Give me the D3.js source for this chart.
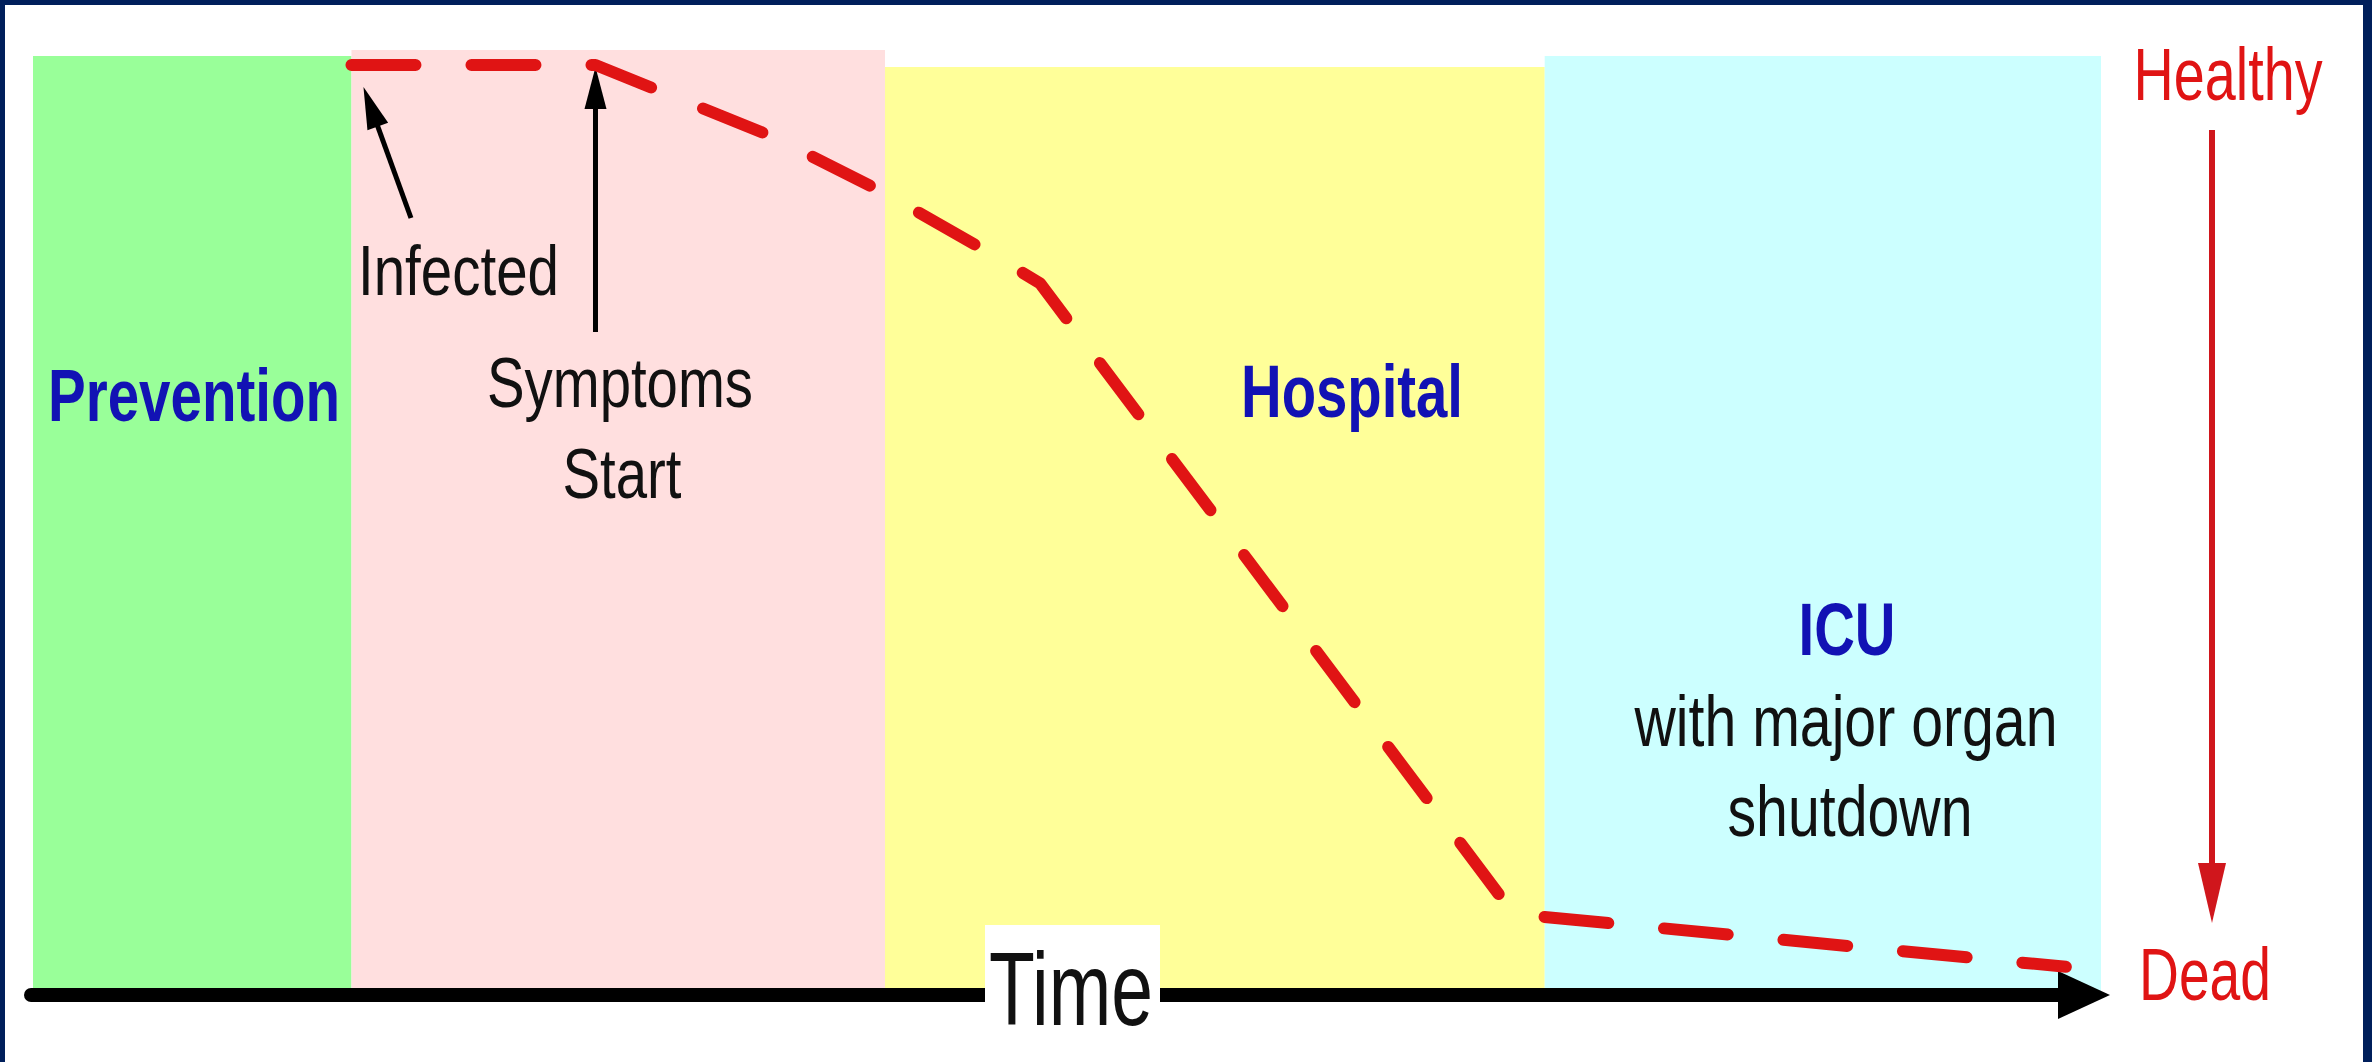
<!DOCTYPE html>
<html>
<head>
<meta charset="utf-8">
<script src="https://cdn.jsdelivr.net/npm/d3@7/dist/d3.min.js"></script>
<style>
  html, body { margin: 0; padding: 0; background: #001f5b; }
  svg { display: block; }
</style>
</head>
<body>
<svg id="chart" width="2372" height="1062"></svg>
<script>
// ---------- data ----------
const phaseNames  = ["Prevention", "Infection", "Hospital", "ICU"];
const phaseStart  = [0, 15.4, 41.2, 73.1];     // time units
const phaseEnd    = [15.4, 41.2, 73.1, 100];
const curveTime   = [15.4, 27.2, 35.8, 41.2, 46.6, 48.7, 71.6, 98.3];
const curveHealth = [100, 100, 92.1, 85.9, 78.9, 76.0, 6.7, 0.9];
const infectedTime = 15.4;
const symptomsTime = 27.2;
const healthLabels = ["Healthy", "Dead"];
const axisLabel = "Time";

// ---------- styles / layout ----------
const W = 2372, H = 1062;
const phaseColor = ["#99ff99", "#ffdfdf", "#ffff99", "#ccffff"];
const phaseTop   = [56, 50, 67, 56];
const panelBottom = 994;
const axisY = 995;
const RED = "#e01414";
const BLUE = "#1212b4";
const FONT = "'Liberation Sans', Arial, sans-serif";

const svg = d3.select("#chart");
const x = d3.scaleLinear().domain([0, 100]).range([33, 2101]);
const y = d3.scaleLinear().domain([0, 100]).range([975, 65]);

// frame
svg.append("rect").attr("x", 0).attr("y", 0).attr("width", W).attr("height", H).attr("fill", "#001f5b");
svg.append("rect").attr("x", 5).attr("y", 5).attr("width", 2358).attr("height", H - 5).attr("fill", "#ffffff");

// phase panels
svg.append("g").selectAll("rect")
  .data(phaseNames)
  .join("rect")
  .attr("x", (d, i) => x(phaseStart[i]))
  .attr("width", (d, i) => x(phaseEnd[i]) - x(phaseStart[i]))
  .attr("y", (d, i) => phaseTop[i])
  .attr("height", (d, i) => panelBottom - phaseTop[i])
  .attr("fill", (d, i) => phaseColor[i]);

// time axis with arrow
const axisEndX = 2110;
svg.append("line")
  .attr("x1", 31).attr("x2", axisEndX - 48)
  .attr("y1", axisY).attr("y2", axisY)
  .attr("stroke", "#000").attr("stroke-width", 14).attr("stroke-linecap", "round");
svg.append("path")
  .attr("d", `M${axisEndX},${axisY} L${axisEndX - 52},${axisY - 24} L${axisEndX - 52},${axisY + 24} Z`)
  .attr("fill", "#000");

// Time label with white box
svg.append("rect").attr("x", 985).attr("y", 925).attr("width", 175).attr("height", 108).attr("fill", "#fff");

function label(txt, px, py, size, opts = {}) {
  const t = svg.append("text")
    .attr("x", px).attr("y", py)
    .attr("font-family", FONT)
    .attr("font-size", size)
    .attr("font-weight", opts.bold ? "bold" : "normal")
    .attr("fill", opts.color || "#111")
    .attr("text-anchor", opts.anchor || "start")
    .text(txt);
  if (opts.len) t.attr("textLength", opts.len).attr("lengthAdjust", "spacingAndGlyphs");
  return t;
}

label(axisLabel, 989, 1025, 104, { len: 164 });

// phase labels
label("Prevention", 48, 421, 74, { bold: true, color: BLUE, len: 292 });
label("Hospital", 1241, 417, 74, { bold: true, color: BLUE, len: 222 });
label("ICU", 1847, 655, 74, { bold: true, color: BLUE, len: 97, anchor: "middle" });
label("with major organ", 1846, 746, 72, { len: 423, anchor: "middle" });
label("shutdown", 1850, 836, 72, { len: 245, anchor: "middle" });

// event labels
label("Infected", 358, 295, 70, { len: 201 });
label("Symptoms", 620, 407, 70, { len: 266, anchor: "middle" });
label("Start", 622, 498, 70, { len: 119, anchor: "middle" });

// health scale labels
label(healthLabels[0], 2228, 100, 74, { color: RED, len: 189, anchor: "middle" });
label(healthLabels[1], 2205, 1000, 74, { color: RED, len: 132, anchor: "middle" });

// arrow helper
function arrow(x1, y1, x2, y2, color, width, headLen, headHalf) {
  const dx = x2 - x1, dy = y2 - y1, L = Math.hypot(dx, dy);
  const ux = dx / L, uy = dy / L;
  const bx = x2 - ux * headLen, by = y2 - uy * headLen;
  svg.append("line")
    .attr("x1", x1).attr("y1", y1).attr("x2", bx + ux * 2).attr("y2", by + uy * 2)
    .attr("stroke", color).attr("stroke-width", width);
  svg.append("path")
    .attr("d", `M${x2},${y2} L${bx - uy * headHalf},${by + ux * headHalf} L${bx + uy * headHalf},${by - ux * headHalf} Z`)
    .attr("fill", color);
}

// Infected arrow (points to start of curve)
arrow(411, 218, x(infectedTime) + 12, y(100) + 22, "#000", 5, 42, 11);
// Symptoms arrow
arrow(x(symptomsTime), 332, x(symptomsTime), y(100) + 2, "#000", 5, 42, 11);
// Healthy -> Dead arrow
arrow(2212, 130, 2212, 923, "#d0161c", 6, 60, 14);

// health trajectory (dashed)
const pts = curveTime.map((t, i) => [t, curveHealth[i]]);
const line = d3.line().x(d => x(d[0])).y(d => y(d[1])).curve(d3.curveLinear);
svg.append("path")
  .attr("d", line(pts))
  .attr("fill", "none")
  .attr("stroke", RED)
  .attr("stroke-width", 12)
  .attr("stroke-linecap", "round")
  .attr("stroke-linejoin", "round")
  .attr("stroke-dasharray", "64 56");
</script>
</body>
</html>
